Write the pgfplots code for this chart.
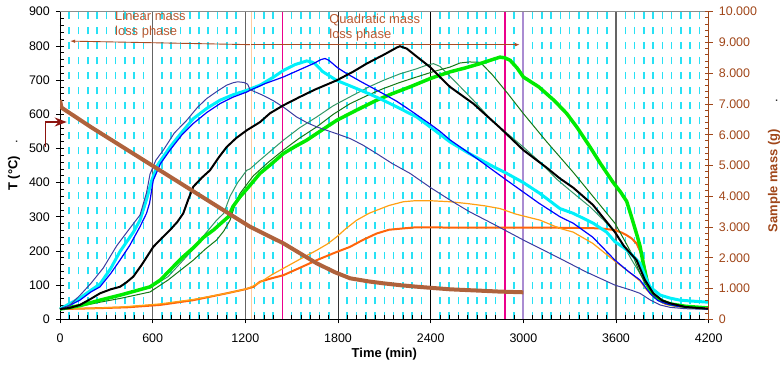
\documentclass[border=0pt]{standalone}
\usepackage{pgfplots}
\pgfplotsset{compat=1.18}
\usepackage{fontspec}
\setmainfont{Liberation Sans}
\usetikzlibrary{arrows.meta}
\definecolor{cgrid}{RGB}{40,225,245}
\definecolor{cnavy}{RGB}{60,60,160}
\definecolor{cblue}{RGB}{0,0,255}
\definecolor{ccyan}{RGB}{0,240,250}
\definecolor{clime}{RGB}{0,235,0}
\definecolor{cdgreen}{RGB}{20,120,20}
\definecolor{csea}{RGB}{50,150,100}
\definecolor{corange}{RGB}{255,160,20}
\definecolor{cdorange}{RGB}{255,100,10}
\definecolor{cbrown}{RGB}{175,98,60}
\definecolor{caxbrown}{RGB}{160,70,25}
\definecolor{ctext}{RGB}{185,90,50}
\definecolor{carrow}{RGB}{170,75,35}
\definecolor{cmaroon}{RGB}{140,20,15}
\definecolor{cpeach}{RGB}{255,205,160}
\definecolor{cpurple}{RGB}{170,140,210}
\definecolor{cgray}{RGB}{100,100,100}
\begin{document}
\begin{tikzpicture}
\useasboundingbox (-60bp,-46.7bp) rectangle (724bp,319.3bp);
\begin{axis}[
  scale only axis, width=648.7bp, height=307.6bp,
  at={(0,0)}, anchor=south west,
  xmin=0, xmax=4200, ymin=0, ymax=900,
  axis x line*=bottom, axis y line*=left,
  axis line style={black, line width=0.8bp},
  xtick={0,600,...,4200},
  minor xtick={60,120,...,540,660,720,...,1140,1260,1320,...,1740,1860,1920,...,2340,2460,2520,...,2940,3060,3120,...,3540,3660,3720,...,4140},
  ytick={0,100,...,900}, minor y tick num=4,
  tick align=center, major tick length=8bp, minor tick length=4bp,
  minor x tick style={yshift=2bp}, minor y tick style={xshift=2bp},
  tick style={black, line width=0.7bp},
  xminorgrids=true,
  minor x grid style={cgrid, line width=1.6bp, dash pattern=on 7bp off 8bp},
  /pgf/number format/assume math mode=true,
  /pgf/number format/1000 sep={},
  scaled x ticks=false, scaled y ticks=false,
  tick label style={font=\fontsize{12.5}{15}\selectfont},
  xticklabel style={inner sep=0pt, anchor=north, yshift=-10bp},
  yticklabel style={inner sep=0pt, anchor=east, xshift=-6bp},
  clip=false,
]
% vertical reference lines
\addplot[cgray, line width=1.5bp] coordinates {(600,0)(600,900)};
\addplot[cgray, line width=1.5bp] coordinates {(1200,0)(1200,900)};
\addplot[cpeach, line width=1bp] coordinates {(1240,0)(1240,900)};
\addplot[magenta, line width=1.5bp] coordinates {(1440,0)(1440,900)};
\addplot[black!80, line width=1bp] coordinates {(1800,0)(1800,900)};
\addplot[black, line width=1bp] coordinates {(2400,0)(2400,900)};
\addplot[magenta, line width=1.5bp] coordinates {(2880,0)(2880,900)};
\addplot[cpurple, line width=2bp] coordinates {(3000,0)(3000,900)};
\addplot[cgray, line width=2bp] coordinates {(3600,0)(3600,900)};
\addplot[black!45, line width=1.2bp] coordinates {(0,900)(4200,900)};
% dark orange
\addplot[cdorange, line width=2bp] coordinates {(0,30)(200,32)(431,35)(647,42)(863,56)(1079,76)(1200,88)(1252,95)(1295,110)(1370,120)(1446,129)(1550,150)(1662,173)(1780,195)(1878,212)(1960,232)(2050,251)(2130,262)(2223,266)(2300,269)(2396,269)(2600,268)(2800,268)(3000,268)(3200,268)(3400,267)(3500,266)(3593,261)(3640,253)(3669,246)(3700,237)(3733,222)(3755,200)(3776,173)(3795,130)(3809,105)(3835,80)(3863,66)(3920,45)(4000,38)(4100,34)(4200,32)};
% orange thin
\addplot[corange, line width=1.2bp] coordinates {(0,30)(200,32)(400,36)(647,45)(863,58)(1079,76)(1200,88)(1240,95)(1295,108)(1370,130)(1446,149)(1550,175)(1662,202)(1730,220)(1791,241)(1850,265)(1921,290)(2000,310)(2050,319)(2130,333)(2223,344)(2300,347)(2396,347)(2525,344)(2650,338)(2750,332)(2849,324)(2950,308)(3108,290)(3237,266)(3323,255)(3450,222)(3593,170)(3680,140)(3755,112)(3800,85)(3841,66)(3900,48)(3949,42)(4050,35)(4200,32)};
% sea green
\addplot[csea, line width=1bp] coordinates {(0,30)(129,40)(259,57)(400,73)(583,92)(700,125)(863,205)(940,250)(1014,290)(1060,310)(1101,360)(1150,400)(1209,436)(1230,440)(1295,466)(1370,495)(1446,524)(1550,560)(1662,592)(1770,625)(1878,651)(2000,680)(2093,699)(2200,718)(2309,733)(2370,743)(2418,748)(2460,740)(2560,695)(2676,641)(2800,580)(3000,504)(3108,460)(3216,410)(3300,378)(3432,329)(3520,290)(3593,255)(3650,215)(3700,175)(3755,134)(3820,86)(3870,60)(3950,45)(4050,38)(4200,33)};
% dark green
\addplot[cdgreen, line width=1bp] coordinates {(0,30)(129,38)(259,50)(400,62)(583,80)(700,115)(863,173)(940,205)(1014,232)(1060,258)(1101,290)(1140,345)(1165,368)(1252,420)(1350,460)(1446,495)(1550,530)(1662,563)(1770,600)(1878,631)(2000,657)(2093,675)(2200,693)(2309,709)(2420,725)(2525,738)(2590,750)(2650,753)(2719,752)(2730,748)(2800,715)(2900,660)(3000,602)(3150,520)(3323,430)(3450,360)(3593,281)(3650,235)(3712,183)(3750,140)(3787,105)(3840,70)(3885,56)(3950,45)(4050,38)(4200,33)};
% lime
\addplot[clime, line width=3.5bp] coordinates {(0,30)(129,40)(259,56)(400,72)(583,95)(650,115)(712,144)(790,180)(870,212)(930,240)(993,261)(1040,280)(1090,300)(1120,330)(1165,358)(1230,392)(1295,427)(1370,455)(1446,485)(1520,505)(1597,524)(1700,555)(1791,582)(1920,612)(2050,641)(2150,660)(2266,680)(2400,705)(2525,724)(2620,735)(2719,748)(2800,760)(2849,767)(2880,765)(2914,758)(2960,735)(3000,709)(3100,680)(3200,640)(3281,602)(3350,560)(3432,504)(3500,455)(3582,400)(3630,372)(3669,345)(3700,300)(3733,250)(3755,215)(3776,164)(3809,95)(3850,68)(3885,56)(3950,45)(4050,38)(4200,33)};
% cyan
\addplot[ccyan, line width=3bp] coordinates {(0,30)(60,45)(129,62)(200,85)(259,103)(330,150)(388,198)(475,255)(518,290)(560,350)(593,405)(630,450)(712,504)(790,548)(863,587)(950,617)(1036,641)(1120,657)(1209,670)(1295,685)(1380,708)(1446,728)(1520,745)(1597,756)(1630,753)(1651,748)(1700,725)(1791,699)(1921,675)(2000,660)(2093,641)(2200,617)(2309,592)(2420,555)(2525,519)(2650,485)(2800,448)(2892,427)(3000,400)(3108,368)(3237,324)(3323,310)(3453,281)(3539,255)(3593,227)(3650,210)(3700,190)(3755,164)(3790,125)(3820,95)(3885,71)(3950,62)(4014,56)(4100,53)(4200,50)};
% blue
\addplot[cblue, line width=1.2bp] coordinates {(0,30)(60,40)(129,56)(200,80)(259,95)(330,135)(388,173)(450,215)(518,271)(560,310)(580,340)(604,407)(650,455)(712,495)(790,540)(863,573)(950,605)(1036,631)(1120,650)(1209,665)(1230,670)(1330,690)(1446,709)(1550,730)(1640,748)(1690,760)(1716,763)(1740,758)(1800,735)(1856,719)(1950,695)(2093,660)(2180,638)(2266,612)(2400,570)(2460,550)(2525,525)(2700,470)(2892,407)(3100,340)(3237,300)(3323,281)(3450,240)(3593,173)(3680,140)(3755,115)(3820,76)(3870,55)(3928,45)(4000,38)(4100,34)(4200,32)};
% navy
\addplot[cnavy, line width=1bp] coordinates {(0,30)(60,40)(129,70)(200,105)(280,150)(367,215)(450,265)(518,305)(560,370)(583,425)(620,465)(669,495)(740,545)(820,582)(890,620)(950,646)(1020,668)(1079,685)(1120,692)(1150,695)(1190,693)(1215,688)(1230,672)(1316,655)(1380,640)(1446,621)(1532,592)(1600,575)(1662,563)(1791,543)(1878,529)(1960,510)(2050,485)(2150,456)(2266,427)(2400,385)(2525,349)(2650,315)(2800,280)(3000,232)(3237,178)(3400,140)(3593,100)(3700,85)(3755,76)(3820,57)(3885,42)(3950,35)(4050,31)(4200,29)};
% black
\addplot[black, line width=2bp] coordinates {(0,30)(60,33)(129,42)(200,60)(259,76)(330,88)(388,95)(430,108)(475,125)(530,160)(604,212)(660,238)(712,261)(760,285)(798,310)(830,350)(863,388)(920,415)(971,436)(1030,475)(1079,504)(1140,530)(1209,553)(1295,577)(1360,603)(1446,626)(1550,650)(1650,672)(1791,699)(1900,725)(1985,748)(2100,775)(2180,795)(2201,799)(2245,792)(2320,765)(2396,738)(2460,709)(2525,680)(2676,631)(2850,560)(3000,495)(3150,444)(3237,412)(3323,385)(3450,335)(3593,255)(3650,215)(3733,173)(3787,115)(3841,76)(3900,55)(3949,47)(4050,36)(4200,31)};
% annotations
\draw[carrow, line width=0.9bp, -{Latex[length=5bp,width=3.5bp]}] (axis cs:1230,803.6) -- (axis cs:65,814);
\draw[carrow, line width=0.9bp, -{Latex[length=5bp,width=3.5bp]}] (axis cs:1237,803.6) -- (axis cs:2978,803.6);
\node[ctext, anchor=north west, inner sep=0pt, align=left, font=\fontsize{13}{15}\selectfont] at (axis cs:356,902) {Linear mass\\loss phase};
\node[ctext, anchor=north west, inner sep=0pt, align=left, font=\fontsize{13}{15}\selectfont] at (axis cs:1743,893) {Quadratic mass\\loss phase};
\end{axis}
\begin{axis}[
  scale only axis, width=648.7bp, height=307.6bp,
  at={(0,0)}, anchor=south west,
  xmin=0, xmax=4200, ymin=0, ymax=10000,
  axis y line*=right, axis x line=none,
  axis line style={caxbrown, line width=1bp},
  scaled y ticks=false,
  ytick={0,1000,...,10000},
  yticklabels={0,1.000,2.000,3.000,4.000,5.000,6.000,7.000,8.000,9.000,10.000},
  minor y tick num=4,
  tick align=center, major tick length=8bp, minor tick length=4bp,
  minor y tick style={xshift=-2bp},
  tick style={caxbrown, line width=0.8bp},
  yticklabel style={inner sep=0pt, anchor=west, xshift=6bp, text=caxbrown, font=\fontsize{12.5}{15}\selectfont},
]
\addplot[cbrown, line width=4bp] coordinates {(0,7130)(10,6880)(200,6250)(400,5620)(600,4990)(800,4360)(1000,3730)(1230,3010)(1446,2471)(1662,1820)(1780,1530)(1878,1333)(2000,1230)(2093,1170)(2200,1110)(2309,1060)(2460,1000)(2525,975)(2700,935)(2850,900)(3000,878)};
\end{axis}
\node[rotate=90, anchor=center, inner sep=0pt, font=\fontsize{13}{15}\selectfont] at (-46bp,153.8bp) {\textbf{T (°C)}\hspace{12bp}.};
\node[rotate=90, anchor=center, inner sep=0pt, font=\fontsize{13}{15}\selectfont] at (714bp,153.8bp) {\textcolor{caxbrown}{\textbf{Sample mass (g)}}\hspace{27bp}.};
\node[anchor=center, inner sep=0pt, font=\fontsize{13}{15}\selectfont] at (324.35bp,-34.7bp) {\textbf{Time (min)}};
\draw[cmaroon, line width=1.6bp, -{Stealth[length=12bp,width=9bp]}] (-14.3bp,172.6bp) -- (-14.3bp,197.3bp) -- (6.7bp,197.3bp);
\end{tikzpicture}
\end{document}
